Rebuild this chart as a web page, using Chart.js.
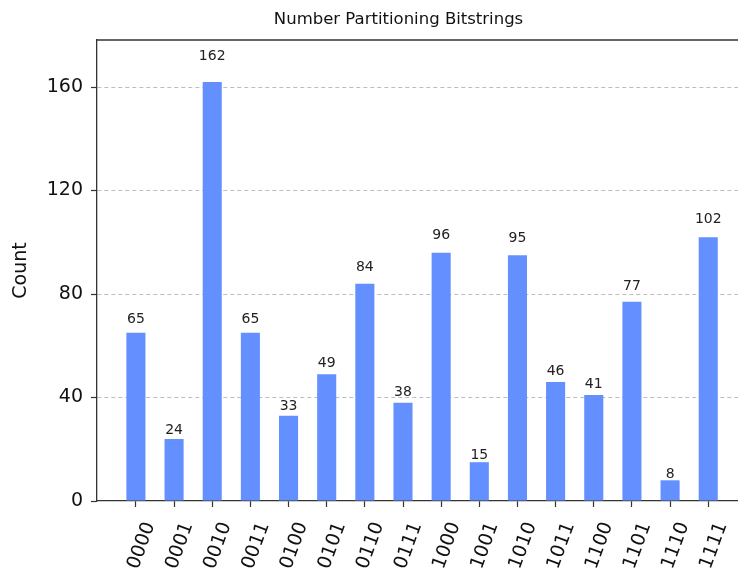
<!DOCTYPE html>
<html>
<head>
<meta charset="utf-8">
<script src="https://cdn.jsdelivr.net/npm/chart.js@4.4.0/dist/chart.umd.min.js"></script>
<style>
  html, body { margin: 0; padding: 0; background: #fff; overflow: hidden; }
  #wrap { width: 738px; height: 573px; }
</style>
</head>
<body>
<div id="wrap"><canvas id="chart"></canvas></div>
<script>
// bitstrings and their counts
const bitstrings = ['0000', '0001', '0010', '0011', '0100', '0101', '0110', '0111',
                    '1000', '1001', '1010', '1011', '1100', '1101', '1110', '1111'];
const counts = [65, 24, 162, 65, 33, 49, 84, 38, 96, 15, 95, 46, 41, 77, 8, 102];
const yTicks = [0, 40, 80, 120, 160];

const FONT = "'DejaVu Sans', sans-serif";
const yMax = Math.max(...counts) * 1.1;

// title, top spine and value labels (qiskit style: label at 1.05 * height)
const extras = {
  id: 'extras',
  afterDatasetsDraw(chart) {
    const { ctx, chartArea, scales } = chart;
    ctx.save();
    ctx.strokeStyle = '#333';
    ctx.lineWidth = 1.3;
    ctx.beginPath();
    ctx.moveTo(chartArea.left, chartArea.top);
    ctx.lineTo(chartArea.right, chartArea.top);
    ctx.stroke();

    ctx.font = '14px ' + FONT;
    ctx.fillStyle = '#222';
    ctx.textAlign = 'center';
    ctx.textBaseline = 'bottom';
    const meta = chart.getDatasetMeta(0);
    meta.data.forEach((bar, i) => {
      ctx.fillText(String(counts[i]), bar.x, scales.y.getPixelForValue(counts[i] * 1.05) + 2);
    });

    ctx.font = '16.5px ' + FONT;
    ctx.fillStyle = '#111';
    ctx.textBaseline = 'middle';
    ctx.fillText('Number Partitioning Bitstrings', chart.width * 0.54, 20);
    ctx.restore();
  }
};

new Chart(document.getElementById('chart'), {
  type: 'bar',
  data: {
    datasets: [{
      data: counts.map((c, i) => ({ x: i, y: c })),
      backgroundColor: '#648fff',
      borderWidth: 0,
      barPercentage: 0.5,
      categoryPercentage: 1.0,
    }]
  },
  options: {
    responsive: true,
    maintainAspectRatio: false,
    animation: false,
    layout: { padding: { top: 40, right: 0, left: 0, bottom: 0 } },
    plugins: {
      legend: { display: false },
      tooltip: { enabled: false },
    },
    scales: {
      x: {
        type: 'linear',
        offset: false,
        min: -1.02,
        max: 15.78,
        afterBuildTicks: (s) => {
          s.ticks = bitstrings.map((_, i) => ({ value: i }));
        },
        afterFit: (s) => {
          s.height = 72;
          s.paddingLeft = 0;
          s.paddingRight = 0;
        },
        ticks: {
          autoSkip: false,
          minRotation: 70,
          maxRotation: 70,
          padding: 12,
          labelOffset: 14,
          color: '#111',
          font: { family: FONT, size: 19 },
          callback: (v) => bitstrings[v],
        },
        grid: {
          offset: false,
          drawOnChartArea: false,
          tickLength: 6,
          tickColor: '#333',
          tickWidth: 1.2,
        },
        border: { color: '#333', width: 1.3 },
      },
      y: {
        min: 0,
        max: yMax,
        afterBuildTicks: (s) => {
          s.ticks = yTicks.map((v) => ({ value: v }));
        },
        afterFit: (s) => { s.width = 97; },
        ticks: {
          padding: 8,
          color: '#111',
          font: { family: FONT, size: 19 },
        },
        title: {
          display: true,
          text: 'Count',
          color: '#111',
          font: { family: FONT, size: 19 },
          padding: { top: 10, bottom: 0 },
        },
        grid: {
          color: (c) => c.tick && c.tick.value === 0 ? 'rgba(0,0,0,0)' : '#bdbdbd',
          lineWidth: 1,
          tickLength: 6,
          tickColor: '#333',
          tickWidth: 1.2,
          tickBorderDash: [],
        },
        border: { color: '#333', width: 1.3, dash: [4, 3] },
      }
    }
  },
  plugins: [extras]
});
</script>
</body>
</html>
